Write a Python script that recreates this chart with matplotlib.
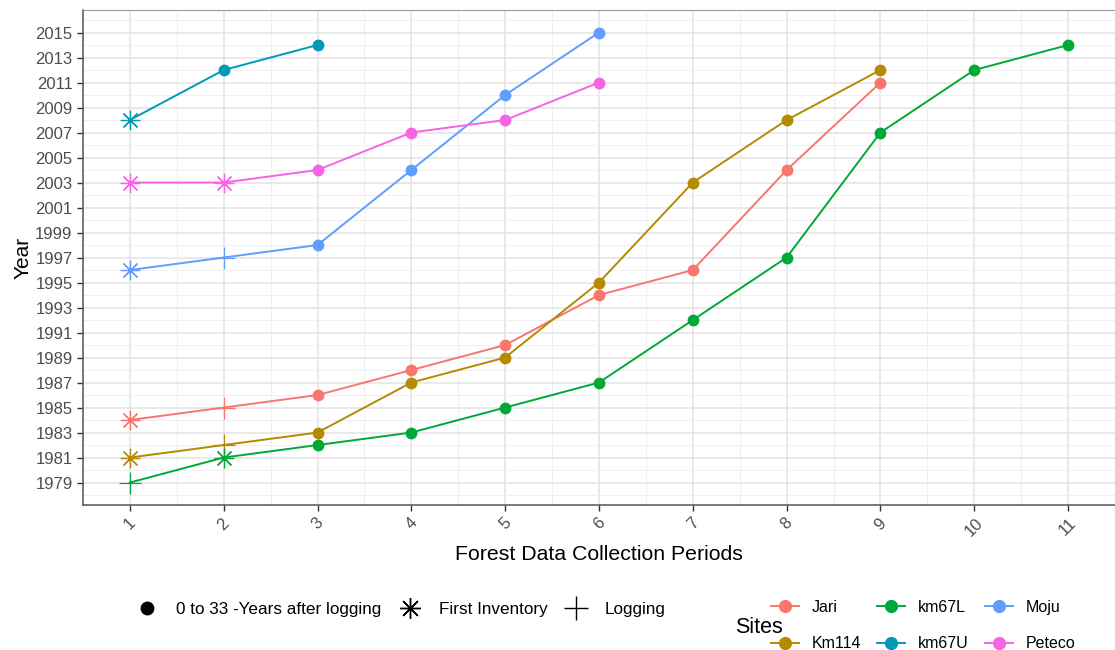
import matplotlib
matplotlib.use('Agg')
import matplotlib.pyplot as plt
from matplotlib.lines import Line2D

plt.rcParams['font.family'] = ['Liberation Sans', 'DejaVu Sans']

# data: period, year, point type
# point type: 'o' = 0 to 33 years after logging, 'a' = first inventory, 'p' = logging
sites = ['Jari', 'Km114', 'km67L', 'km67U', 'Moju', 'Peteco']
colors = ['#F8766D', '#B38A00', '#00A838', '#0099B8', '#619CFF', '#F564E3']

jari_period = [1, 2, 3, 4, 5, 6, 7, 8, 9]
jari_year = [1984, 1985, 1986, 1988, 1990, 1994, 1996, 2004, 2011]
jari_type = ['a', 'p', 'o', 'o', 'o', 'o', 'o', 'o', 'o']

km114_period = [1, 2, 3, 4, 5, 6, 7, 8, 9]
km114_year = [1981, 1982, 1983, 1987, 1989, 1995, 2003, 2008, 2012]
km114_type = ['a', 'p', 'o', 'o', 'o', 'o', 'o', 'o', 'o']

km67l_period = [1, 2, 3, 4, 5, 6, 7, 8, 9, 10, 11]
km67l_year = [1979, 1981, 1982, 1983, 1985, 1987, 1992, 1997, 2007, 2012, 2014]
km67l_type = ['p', 'a', 'o', 'o', 'o', 'o', 'o', 'o', 'o', 'o', 'o']

km67u_period = [1, 2, 3]
km67u_year = [2008, 2012, 2014]
km67u_type = ['a', 'o', 'o']

moju_period = [1, 2, 3, 4, 5, 6]
moju_year = [1996, 1997, 1998, 2004, 2010, 2015]
moju_type = ['a', 'p', 'o', 'o', 'o', 'o']

peteco_period = [1, 2, 3, 4, 5, 6]
peteco_year = [2003, 2003, 2004, 2007, 2008, 2011]
peteco_type = ['a', 'a', 'o', 'o', 'o', 'o']

periods = [jari_period, km114_period, km67l_period, km67u_period, moju_period, peteco_period]
years = [jari_year, km114_year, km67l_year, km67u_year, moju_year, peteco_year]
types = [jari_type, km114_type, km67l_type, km67u_type, moju_type, peteco_type]

shape_labels = ['0 to 33 -Years after logging', 'First Inventory', 'Logging']
asterisk = (8, 2, 0)
marker_style = {
    'o': dict(marker='o', markersize=8.5, markeredgewidth=0),
    'a': dict(marker=asterisk, markersize=14, markeredgewidth=0.9),
    'p': dict(marker='+', markersize=16, markeredgewidth=0.9),
}

fig = plt.figure(figsize=(11.15, 6.5), dpi=100)
ax = fig.add_axes([0.0744, 0.223, 0.9256, 0.7616])

for name, col, px, py, pt in zip(sites, colors, periods, years, types):
    ax.plot(px, py, color=col, lw=1.4, zorder=3)
    for k in ['o', 'a', 'p']:
        xs = [x for x, t in zip(px, pt) if t == k]
        ys = [y for y, t in zip(py, pt) if t == k]
        if xs:
            ax.plot(xs, ys, linestyle='none', color=col, zorder=4, **marker_style[k])

ax.set_xlim(0.5, 11.45)
ax.set_ylim(1977.2, 2016.8)
ax.set_xticks(range(1, 12))
ax.set_xticks([x + 0.5 for x in range(0, 12)], minor=True)
ax.set_yticks(range(1979, 2016, 2))
ax.set_yticks(range(1978, 2017, 2), minor=True)
ax.grid(which='major', color='#E3E3E3', lw=1.1)
ax.grid(which='minor', color='#EFEFEF', lw=0.7)
ax.set_axisbelow(True)

ax.tick_params(axis='both', which='major', length=4, width=1, color='#333333',
               labelsize=12, labelcolor='#4D4D4D')
ax.tick_params(which='minor', length=0)
plt.setp(ax.get_xticklabels(), rotation=45, ha='center', va='top')

for s in ['left', 'bottom']:
    ax.spines[s].set_color('#555555')
    ax.spines[s].set_linewidth(1.1)
ax.spines['top'].set_color('#999999')
ax.spines['right'].set_visible(False)

ax.set_xlabel('Forest Data Collection Periods', fontsize=15.3, labelpad=4)
ax.set_ylabel('Year', fontsize=15, labelpad=2)

# shape legend
shape_handles = [
    Line2D([], [], linestyle='none', color='black', marker='o', markersize=10, markeredgewidth=0),
    Line2D([], [], linestyle='none', color='black', marker=asterisk, markersize=15, markeredgewidth=1.0),
    Line2D([], [], linestyle='none', color='black', marker='+', markersize=17, markeredgewidth=1.0),
]
fig.legend(shape_handles, shape_labels, ncol=3, loc='center left',
           bbox_to_anchor=(0.1028, 0.063), frameon=False, fontsize=12.3,
           handlelength=2.0, handletextpad=0.7, columnspacing=0.65)

# sites legend
site_handles = [Line2D([], [], color=c, lw=1.4, marker='o', markersize=9.5, markeredgewidth=0)
                for c in colors]
fig.legend(site_handles, sites, ncol=3, loc='center left',
           bbox_to_anchor=(0.6786, 0.0375), frameon=False, fontsize=11.5,
           handlelength=1.75, handletextpad=0.8, columnspacing=1.0, labelspacing=1.32)
fig.text(0.659, 0.034, 'Sites', fontsize=15.5, ha='left', va='center')

fig.savefig('out.png', dpi=100)
